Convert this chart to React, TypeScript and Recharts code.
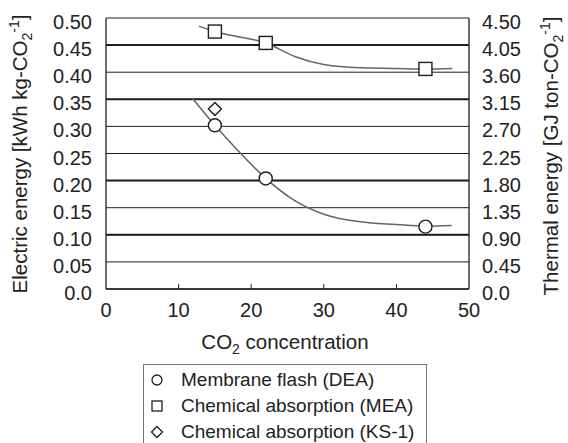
import React from "react";
import {
  ComposedChart,
  Line,
  Scatter,
  XAxis,
  YAxis,
  CartesianGrid,
  ReferenceLine,
} from "recharts";

// Measured points
const deaX = [15, 22, 44];
const deaY = [0.302, 0.204, 0.115];
const meaX = [15, 22, 44];
const meaY = [0.475, 0.454, 0.406];
const ks1X = [15];
const ks1Y = [0.332];

// Fitted curves
const deaFitX = [11.9, 15, 18, 22, 26, 30, 35, 40, 44, 47.6];
const deaFitY = [0.352, 0.302, 0.258, 0.204, 0.163, 0.138, 0.124, 0.119, 0.116, 0.117];
const meaFitX = [12.8, 15, 18, 22, 26, 30, 35, 40, 44, 47.7];
const meaFitY = [0.485, 0.475, 0.466, 0.454, 0.429, 0.414, 0.408, 0.407, 0.406, 0.407];

// Axis ticks
const xTicks = [0, 10, 20, 30, 40, 50];
const leftTicks = [0, 0.05, 0.1, 0.15, 0.2, 0.25, 0.3, 0.35, 0.4, 0.45, 0.5];
const rightTicks = [0, 0.45, 0.9, 1.35, 1.8, 2.25, 2.7, 3.15, 3.6, 4.05, 4.5];
const thickLines = [0.1, 0.2, 0.35, 0.45];

const legendLabels = [
  "Membrane flash (DEA)",
  "Chemical absorption (MEA)",
  "Chemical absorption (KS-1)",
];

const zip = (xs: number[], ys: number[]) => xs.map((x, i) => ({ x, y: ys[i] }));
const deaPts = zip(deaX, deaY);
const meaPts = zip(meaX, meaY);
const ksPts = zip(ks1X, ks1Y);
const deaFit = zip(deaFitX, deaFitY);
const meaFit = zip(meaFitX, meaFitY);

const FONT = '"Liberation Sans", Arial, sans-serif';
const TXT = "#222";
const DARK = "#1e1e1e";
const CURVE = "#66665a";
const TICK_FS = 20;
const TITLE_FS = 20.5;

const fmt = (v: number) => (v === 0 ? "0.0" : v.toFixed(2));

const LeftTick = (p: any) => (
  <text x={p.x - 14} y={p.y + 11} textAnchor="end" fontSize={TICK_FS} fontFamily={FONT} fill={TXT}>
    {fmt(p.payload.value)}
  </text>
);
const RightTick = (p: any) => (
  <text x={p.x + 13} y={p.y + 11} textAnchor="start" fontSize={TICK_FS} fontFamily={FONT} fill={TXT}>
    {fmt(p.payload.value)}
  </text>
);
const BottomTick = (p: any) => {
  const v = p.payload.value;
  return (
    <g>
      {v !== 0 && v !== 50 && (
        <line x1={p.x} y1={p.y} x2={p.x} y2={p.y - 5} stroke={DARK} strokeWidth={1} />
      )}
      <text x={p.x} y={p.y + 28} textAnchor="middle" fontSize={TICK_FS} fontFamily={FONT} fill={TXT}>
        {v}
      </text>
    </g>
  );
};

const CircleShape = (p: any) => (
  <circle cx={p.cx} cy={p.cy} r={6.5} fill="#fff" stroke={DARK} strokeWidth={1.4} />
);
const SquareShape = (p: any) => (
  <rect x={p.cx - 6.5} y={p.cy - 6.5} width={13} height={13} fill="#fff" stroke={DARK} strokeWidth={1.4} />
);
const DiamondShape = (p: any) => (
  <path
    d={`M${p.cx},${p.cy - 6.5} L${p.cx + 6.5},${p.cy} L${p.cx},${p.cy + 6.5} L${p.cx - 6.5},${p.cy} Z`}
    fill="#fff"
    stroke={DARK}
    strokeWidth={1.4}
  />
);

const LeftLabel = () => (
  <text
    x={27}
    y={154}
    transform="rotate(-90, 27, 154)"
    textAnchor="middle"
    fontSize={TITLE_FS}
    fontFamily={FONT}
    fill={TXT}
  >
    <tspan>Electric energy [kWh kg-CO</tspan>
    <tspan fontSize={14} dy={5}>2</tspan>
    <tspan fontSize={14} dy={-13}>-1</tspan>
    <tspan dy={8}>]</tspan>
  </text>
);
const RightLabel = () => (
  <text
    x={558}
    y={156}
    transform="rotate(-90, 558, 156)"
    textAnchor="middle"
    fontSize={TITLE_FS}
    fontFamily={FONT}
    fill={TXT}
  >
    <tspan>Thermal energy [GJ ton-CO</tspan>
    <tspan fontSize={14} dy={5}>2</tspan>
    <tspan fontSize={14} dy={-13}>-1</tspan>
    <tspan dy={8}>]</tspan>
  </text>
);
const BottomLabel = () => (
  <text x={285} y={349} textAnchor="middle" fontSize={TITLE_FS} fontFamily={FONT} fill={TXT}>
    <tspan>CO</tspan>
    <tspan fontSize={14} dy={5}>2</tspan>
    <tspan dy={-5}> concentration</tspan>
  </text>
);

const LegendMarker = ({ i }: { i: number }) => (
  <svg width={14} height={14} style={{ display: "block" }}>
    {i === 0 && <circle cx={7} cy={7} r={5} fill="#fff" stroke={DARK} strokeWidth={1.3} />}
    {i === 1 && <rect x={2} y={2} width={10} height={10} fill="#fff" stroke={DARK} strokeWidth={1.3} />}
    {i === 2 && <path d="M7,1.5 L12.5,7 L7,12.5 L1.5,7 Z" fill="#fff" stroke={DARK} strokeWidth={1.3} />}
  </svg>
);

export default function App() {
  return (
    <div style={{ position: "absolute", left: 0, top: 0, width: 568, height: 443, overflow: "hidden", background: "#fff" }}>
      <ComposedChart
        width={568}
        height={443}
        margin={{ top: 18, right: 0, bottom: 94, left: 0 }}
      >
        <CartesianGrid yAxisId="left" vertical={false} stroke={DARK} strokeWidth={1} />
        <XAxis
          dataKey="x"
          type="number"
          domain={[0, 50]}
          ticks={xTicks}
          height={60}
          tickSize={0}
          tickMargin={0}
          tickLine={false}
          tick={BottomTick}
          axisLine={{ stroke: DARK, strokeWidth: 1.3 }}
          label={{ content: BottomLabel }}
          allowDataOverflow
        />
        <YAxis
          yAxisId="left"
          type="number"
          domain={[0, 0.5]}
          ticks={leftTicks}
          width={106}
          tickSize={0}
          tickMargin={0}
          tickLine={false}
          tick={LeftTick}
          axisLine={{ stroke: DARK, strokeWidth: 1.3 }}
          label={{ content: LeftLabel }}
          allowDataOverflow
        />
        <YAxis
          yAxisId="right"
          orientation="right"
          type="number"
          domain={[0, 4.5]}
          ticks={rightTicks}
          width={99}
          tickSize={0}
          tickMargin={0}
          tickLine={false}
          tick={RightTick}
          axisLine={{ stroke: DARK, strokeWidth: 1.3 }}
          label={{ content: RightLabel }}
          allowDataOverflow
        />
        {thickLines.map((v) => (
          <ReferenceLine key={v} yAxisId="left" y={v} stroke={DARK} strokeWidth={2} />
        ))}
        <Line
          yAxisId="left"
          data={deaFit}
          dataKey="y"
          type="monotone"
          stroke={CURVE}
          strokeWidth={1.5}
          dot={false}
          activeDot={false}
          isAnimationActive={false}
        />
        <Line
          yAxisId="left"
          data={meaFit}
          dataKey="y"
          type="monotone"
          stroke={CURVE}
          strokeWidth={1.5}
          dot={false}
          activeDot={false}
          isAnimationActive={false}
        />
        <Scatter yAxisId="left" data={deaPts} dataKey="y" shape={CircleShape} isAnimationActive={false} />
        <Scatter yAxisId="left" data={meaPts} dataKey="y" shape={SquareShape} isAnimationActive={false} />
        <Scatter yAxisId="left" data={ksPts} dataKey="y" shape={DiamondShape} isAnimationActive={false} />
      </ComposedChart>
      <div
        style={{
          position: "absolute",
          left: 143,
          top: 364,
          width: 284,
          height: 100,
          boxSizing: "border-box",
          border: "1px solid #777",
          paddingTop: 2,
          fontFamily: FONT,
          fontSize: 19,
          color: TXT,
        }}
      >
        {legendLabels.map((t, i) => (
          <div key={t} style={{ display: "flex", alignItems: "center", height: 26 }}>
            <div style={{ width: 37, display: "flex", justifyContent: "flex-start", paddingLeft: 6, boxSizing: "border-box" }}>
              <LegendMarker i={i} />
            </div>
            <span style={{ whiteSpace: "nowrap" }}>{t}</span>
          </div>
        ))}
      </div>
    </div>
  );
}
